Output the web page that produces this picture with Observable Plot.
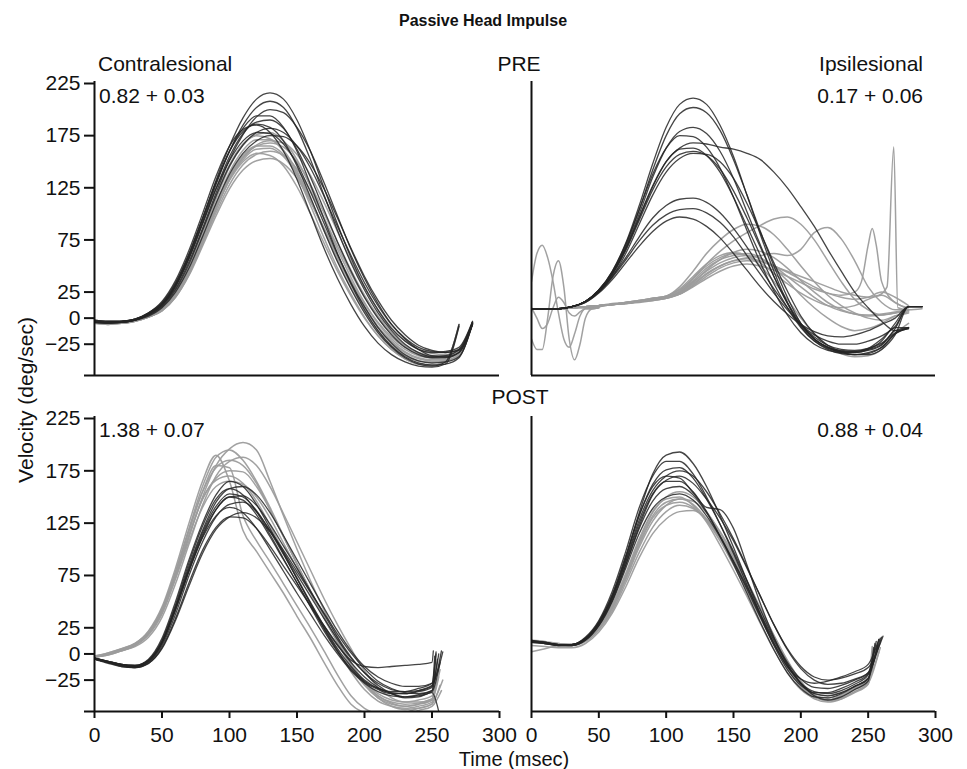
<!DOCTYPE html>
<html><head><meta charset="utf-8">
<script src="https://cdn.jsdelivr.net/npm/d3@7"></script>
<script src="https://cdn.jsdelivr.net/npm/@observablehq/plot@0.6"></script>
<style>
body{margin:0;background:#fff;}
#fig{position:relative;width:967px;height:769px;overflow:hidden;background:#fff;}
.panel{position:absolute;}
#overlay{position:absolute;left:0;top:0;}
</style></head>
<body><div id="fig"></div>
<script>
// ---------- axes / labels ----------
const xDomain = [0, 300];
const yDomain = [-55, 225];
const xTicks = [0, 50, 100, 150, 200, 250, 300];
const yTicks = [225, 175, 125, 75, 25, 0, -25];
const title = "Passive Head Impulse";
const sideLabels = ["Contralesional", "Ipsilesional"];
const rowLabels = ["PRE", "POST"];
const gains = ["0.82 + 0.03", "0.17 + 0.06", "1.38 + 0.07", "0.88 + 0.04"];
const xLabel = "Time (msec)";
const yLabel = "Velocity (deg/sec)";

// ---------- Panel A: PRE, contralesional ----------
const gridA = [0,10,20,30,40,50,60,70,80,90,100,110,120,130,140,150,160,170,180,190,200,210,220,230,240,250,260,270,280];
const eyeA = [
  [-2,-3,-3,-1,5,14,32,60,95,132,165,192,210,216,210,190,160,125,90,58,30,8,-10,-22,-30,-33,-32,-28,-3],
  [-3,-4,-4,-2,4,13,31,58,92,128,160,185,202,208,202,182,152,118,84,53,27,5,-12,-25,-33,-37,-36,-30,-4],
  [-3,-4,-3,-1,4,12,28,54,86,120,152,176,193,200,197,183,160,130,98,66,38,14,-6,-20,-30,-36,-37,-33,-5],
  [-4,-5,-4,-2,4,14,33,61,95,130,160,182,194,194,183,160,128,95,62,33,8,-12,-27,-37,-43,-45,-44,-38,-6],
  [-3,-4,-4,-2,3,12,30,57,90,124,155,177,188,190,182,162,135,104,73,45,20,0,-16,-28,-35,-38,-38,-33,-4],
  [-2,-3,-3,-1,5,15,34,62,96,130,160,179,186,183,170,146,116,84,54,28,5,-14,-28,-38,-44,-46,-42,-6],
  [-3,-4,-4,-2,3,11,27,52,84,117,146,166,178,182,178,165,144,117,88,60,34,12,-6,-19,-28,-32,-33,-30,-6],
  [-4,-5,-4,-2,4,13,31,58,91,124,151,170,178,177,167,148,121,91,61,34,11,-9,-24,-35,-41,-43,-42,-37,-5],
  [-3,-4,-4,-2,2,10,25,48,78,110,138,158,170,175,174,165,148,124,96,67,40,17,-2,-16,-26,-31,-33,-31,-6],
  [-3,-4,-3,-1,5,16,36,65,100,136,165,181,185,178,160,133,100,67,38,13,-8,-24,-35,-42,-46,-47,-44,-8]
];
const headA = [
  [-4,-5,-4,-2,2,9,24,48,80,114,145,166,176,178,170,152,126,96,66,39,15,-5,-20,-30,-36,-38,-37,-32,-4],
  [-5,-5,-4,-2,2,9,23,46,77,110,140,161,171,171,161,141,114,84,55,29,7,-12,-26,-36,-41,-42,-41,-36,-5],
  [-4,-5,-5,-3,1,8,21,43,73,105,134,154,165,168,164,150,128,101,73,46,22,2,-14,-26,-33,-36,-36,-32,-4],
  [-5,-6,-5,-3,1,8,22,44,74,105,133,152,162,163,155,137,112,84,57,32,10,-9,-23,-33,-39,-41,-41,-36,-5],
  [-4,-5,-4,-2,2,9,23,46,76,106,132,150,158,156,146,126,100,72,45,21,0,-17,-30,-39,-44,-45,-42,-6],
  [-5,-5,-5,-3,1,7,20,41,69,98,124,142,151,153,148,134,112,86,60,36,14,-4,-18,-28,-34,-37,-37,-33,-5],
  [-4,-5,-4,-2,1,8,21,43,72,104,133,154,166,170,168,157,137,111,83,55,30,8,-9,-22,-30,-34,-35,-31,-5],
  [-5,-6,-5,-3,1,7,20,42,71,101,128,147,157,160,156,143,122,96,69,43,20,0,-15,-27,-34,-38,-38,-34,-5],
  [-4,-5,-4,-2,3,10,25,50,83,117,147,167,175,172,160,137,108,77,48,23,1,-17,-30,-39,-44,-45,-42,-7],
  [-4,-5,-5,-2,2,8,22,45,75,107,136,156,165,165,157,139,114,86,58,33,11,-8,-22,-32,-38,-40,-40,-35,-4]
];

// ---------- Panel B: PRE, ipsilesional ----------
const gridB = [0,10,20,30,40,50,60,70,80,90,100,110,120,130,140,150,160,170,180,190,200,210,220,230,240,250,260,270,280,290];
const eyeB = [
  [9,9,9,11,16,27,45,72,108,148,183,205,211,205,185,155,118,80,45,15,-8,-22,-30,-34,-35,-33,-28,-15,-9],
  [9,9,9,11,16,27,44,70,104,142,175,196,202,197,180,152,118,83,50,20,-5,-20,-28,-32,-33,-31,-26,-12,-9],
  [9,9,9,11,16,26,43,68,100,135,163,179,183,177,160,134,102,70,40,14,-7,-20,-28,-31,-32,-30,-25,-10,11,11],
  [9,9,9,11,16,27,45,71,104,138,163,175,174,164,144,116,84,53,26,3,-14,-25,-31,-33,-33,-30,-22,-5,11,11],
  [9,9,9,11,16,26,43,67,97,127,150,162,163,156,140,116,88,60,33,10,-9,-22,-29,-32,-32,-29,-20,-9,-9],
  [9,9,9,11,16,26,42,66,96,126,150,163,168,167,164,162,158,152,140,125,107,88,66,45,25,10,-3,-12,-10],
  [9,9,9,11,16,26,42,65,94,123,145,157,160,156,143,122,96,68,40,15,-5,-20,-28,-33,-35,-34,-28,-15,-10],
  [9,9,9,11,15,25,40,62,90,118,140,153,158,157,150,134,110,82,53,26,2,-15,-26,-32,-35,-35,-30,-16,11,11],
  [9,9,9,11,16,25,40,58,78,96,108,114,115,111,101,86,68,48,28,10,-6,-18,-26,-30,-31,-29,-24,-14,-9],
  [9,9,9,11,16,25,39,56,74,89,99,104,105,101,92,78,60,42,24,8,-6,-16,-22,-25,-25,-22,-17,-8,11,11],
  [9,9,9,11,15,24,37,53,69,83,93,97,95,88,77,62,46,30,16,4,-6,-13,-17,-18,-16,-12,-6,0,11,11]
];
const headB = [
  [9,9,9,10,11,12,13,15,16,18,20,25,35,45,53,58,60,57,50,40,30,20,12,7,4,3,4,6,8],
  [9,9,9,10,11,12,13,14,16,17,19,24,34,46,56,63,66,64,58,48,36,25,15,8,4,2,3,5,7],
  [9,9,9,10,10,11,13,14,15,17,19,23,31,40,48,53,55,54,50,44,37,30,24,20,18,20,25,20,12],
  [9,9,9,10,11,12,13,15,17,19,21,27,38,50,58,62,60,53,43,33,24,17,12,10,12,18,22,15,8],
  [9,9,9,10,11,12,14,15,17,19,21,30,45,62,75,85,90,88,80,66,50,35,22,12,5,0,-2,2,5],
  [9,9,9,10,11,12,13,15,16,18,20,26,38,52,64,74,82,89,95,97,90,75,55,35,18,8,3,5,8],
  [9,9,9,10,10,11,13,14,16,17,19,23,32,42,50,55,58,60,62,60,66,82,87,76,55,30,15,8,8],
  [9,9,9,10,11,12,13,15,17,19,21,28,40,52,60,63,60,50,35,18,0,-15,-27,-34,-37,-36,-30,-15,-5],
  [9,9,9,10,11,12,13,14,16,18,20,25,36,48,56,60,62,58,48,36,22,10,0,-8,-12,-10,-5,2,6]
];
const waveTimesB = [0,4,8,12,16,20,24,28,32,36,40,45,50];
const wavesB = [
  [35,62,70,58,35,5,-20,-28,-15,2,9,9,10],
  [-20,-30,-30,0,40,55,30,-20,-40,-25,0,9,10],
  [10,0,-10,-5,10,20,15,5,2,6,9,9,10]
];
const spikeTimesB = [0,20,40,60,80,100,110,120,130,140,150,160,170,180,190,200,210,220,230,240,250,258,264,269,272,280,290];
const spikeB = [9,9,11,13,16,20,24,33,43,50,55,57,55,50,45,40,35,30,25,22,20,22,30,164,10,8,9];
const bumpTimesB = [0,20,40,60,80,100,110,120,130,140,150,160,170,180,190,200,210,220,230,240,245,250,253,256,260,270,280];
const bumpB = [9,9,11,13,16,20,23,30,38,45,50,52,50,46,40,34,28,24,22,25,35,70,86,70,35,15,10];

// ---------- Panel C: POST, contralesional ----------
const gridC = [0,10,20,30,40,50,60,70,80,90,100,110,120,130,140,150,160,170,180,190,200,210,220,230,240,250];
const hookEyeC = [253,255,252,257,254,256,258,251,255,253];
const eyeC = [
  [-4,-7,-10,-11,-5,15,50,90,125,152,165,160,143,120,96,72,48,24,3,-14,-26,-33,-36,-36,-33,-28,2],
  [-5,-8,-11,-12,-6,13,47,87,122,148,158,152,136,114,91,68,45,22,2,-15,-27,-34,-38,-38,-35,-30,0],
  [-4,-7,-10,-12,-7,10,42,80,114,138,150,147,133,112,90,68,46,25,5,-12,-25,-33,-37,-38,-36,-32,-2],
  [-5,-8,-12,-13,-8,8,38,75,107,131,143,145,136,118,97,76,55,34,14,-4,-18,-28,-34,-36,-35,-31,3],
  [-4,-7,-10,-11,-6,11,44,80,111,132,140,135,120,100,79,58,38,18,0,-16,-28,-36,-40,-41,-39,-35,-5],
  [-5,-9,-12,-13,-9,6,34,68,99,121,131,130,120,103,84,65,46,27,9,-8,-22,-32,-38,-41,-40,-36,-8],
  [-4,-7,-10,-11,-6,12,45,84,118,145,158,160,152,135,113,90,67,44,22,3,-12,-22,-28,-31,-31,-28,2],
  [-5,-8,-11,-12,-7,11,44,82,116,141,153,150,137,117,95,72,49,27,8,-6,-12,-13,-12,-11,-10,-8,3],
  [-4,-8,-11,-12,-7,10,42,79,112,138,150,151,142,124,103,82,60,38,16,-3,-18,-30,-38,-42,-41,-37,-55],
  [-5,-8,-11,-13,-9,5,32,65,96,119,131,135,130,117,99,79,59,39,19,1,-14,-26,-33,-37,-38,-35,0]
];
const hookHeadC = [254,256,252,257,255,253,258,252,256];
const headC = [
  [-3,0,4,9,20,42,78,120,160,188,195,185,165,140,113,86,60,35,12,-10,-28,-40,-47,-50,-48,-44,-25],
  [-3,-1,3,8,18,38,72,112,150,180,196,202,195,165,132,100,70,42,16,-8,-28,-42,-50,-53,-52,-48,-30],
  [-2,1,5,10,22,45,82,125,165,190,165,118,98,78,58,36,15,-8,-30,-48,-56,-58,-58,-56,-52,-48,-30],
  [-3,0,4,9,20,42,78,118,155,180,178,132,108,88,67,46,25,3,-20,-40,-52,-57,-58,-57,-54,-50,-35],
  [-3,0,4,9,21,43,78,118,155,178,185,180,163,138,112,86,60,35,11,-12,-30,-42,-48,-50,-48,-44,-22],
  [-3,0,3,8,19,40,74,112,148,168,175,174,160,138,112,86,60,35,12,-10,-28,-40,-46,-48,-47,-43,-20],
  [-2,1,5,10,21,42,76,114,148,166,170,163,146,123,98,73,49,26,4,-17,-34,-45,-50,-52,-50,-46,-25],
  [-3,-1,3,7,16,35,67,105,142,170,184,188,180,160,134,107,80,53,28,5,-16,-32,-42,-46,-46,-43,-20],
  [-3,0,4,9,20,40,72,108,140,160,165,162,150,130,106,82,58,34,12,-9,-26,-38,-44,-46,-44,-40,-15]
];

// ---------- Panel D: POST, ipsilesional ----------
const gridD = [0,10,20,30,40,50,60,70,80,90,100,110,120,130,140,150,160,170,180,190,200,210,220,230,240,250];
const hookEyeD = [258,256,260,255,257,259,254,258,261];
const eyeD = [
  [12,11,9,9,15,30,55,92,135,172,190,193,182,160,132,102,70,38,10,-12,-24,-28,-26,-22,-17,-10,14],
  [13,11,9,9,15,30,56,92,132,162,176,178,168,148,124,98,70,42,15,-8,-24,-32,-33,-30,-25,-18,12],
  [11,10,8,8,14,29,54,89,128,156,170,175,170,155,134,110,83,55,28,4,-14,-25,-29,-28,-24,-18,16],
  [12,11,9,9,15,31,57,94,133,160,170,168,154,140,138,120,85,48,16,-10,-28,-38,-40,-37,-31,-24,10],
  [12,10,9,9,14,29,54,88,125,153,165,165,155,136,112,86,58,30,4,-18,-33,-41,-42,-38,-31,-23,8],
  [13,11,9,9,14,28,52,85,120,146,158,160,152,135,113,88,62,35,10,-12,-28,-36,-38,-35,-29,-20,15],
  [11,10,8,8,13,27,50,82,115,139,150,153,147,132,112,89,64,38,13,-10,-28,-40,-44,-41,-34,-26,6],
  [12,11,9,9,16,32,60,98,140,170,184,184,172,150,124,96,66,36,8,-15,-30,-37,-37,-33,-27,-19,14],
  [12,10,8,8,13,27,51,85,122,152,166,170,163,148,130,108,82,55,28,5,-12,-22,-25,-23,-19,-13,17]
];
const hookHeadD = [256,255,258,254,257,259,253];
const headD = [
  [12,11,10,9,13,25,45,75,108,135,150,155,150,136,116,92,66,39,13,-10,-28,-38,-40,-37,-31,-24,8],
  [11,10,9,8,12,24,43,71,102,127,142,148,146,135,117,95,70,44,18,-6,-26,-39,-44,-42,-36,-28,5],
  [12,11,9,9,12,23,41,68,97,121,136,142,139,128,110,88,64,38,12,-12,-31,-43,-46,-43,-36,-28,2],
  [8,7,6,6,10,21,39,64,92,115,129,136,137,129,113,92,68,42,17,-7,-27,-40,-45,-43,-37,-29,4],
  [13,12,10,9,13,26,47,77,110,136,148,150,142,126,104,80,55,29,4,-18,-34,-42,-44,-40,-33,-25,10],
  [12,11,9,9,13,25,44,73,104,130,142,145,140,127,108,85,60,34,9,-14,-31,-40,-42,-39,-32,-24,6],
  [2,5,8,9,13,25,45,74,106,132,145,148,143,129,110,87,62,36,11,-12,-30,-41,-44,-41,-34,-26,7]
];

// ---------- helpers ----------
function toRows(times, traces, prefix, hooks) {
  const rows = [];
  traces.forEach((vals, i) => {
    vals.forEach((v, j) => {
      const last = hooks && j === vals.length - 1;
      rows.push({id: prefix + i, t: last ? hooks[i] : times[j], v});
    });
  });
  return rows;
}

const EYE = "#242424", HEAD = "#9c9c9c";
const FONT = "'Liberation Sans', Arial, Helvetica, sans-serif";
const fig = document.getElementById("fig");

function panel(cfg) {
  const marks = [
    Plot.line(cfg.head, {x: "t", y: "v", z: "id", stroke: HEAD, strokeWidth: 1.5, strokeOpacity: 0.95, curve: "monotone-x", clip: true}),
    Plot.line(cfg.eye, {x: "t", y: "v", z: "id", stroke: EYE, strokeWidth: 1.3, strokeOpacity: 0.85, curve: "monotone-x", clip: true}),
    Plot.ruleX([xDomain[0]], {strokeWidth: 2, insetTop: -2, stroke: "#111"}),
    Plot.ruleY([yDomain[0]], {strokeWidth: 2, insetLeft: cfg.extend ? -10 : 0, stroke: "#111"})
  ];
  if (cfg.showY) marks.push(Plot.axisY({ticks: yTicks, tickSize: 10, tickPadding: 4, strokeWidth: 2, label: null, fontSize: 21}));
  if (cfg.showX) marks.push(Plot.axisX({ticks: xTicks, tickSize: 7, tickPadding: 9, strokeWidth: 2, label: null, fontSize: 21}));
  const svg = Plot.plot({
    width: cfg.width, height: cfg.height,
    marginLeft: cfg.mL, marginRight: cfg.mR, marginTop: 13, marginBottom: cfg.mB,
    x: cfg.showX ? {domain: xDomain, label: null} : {domain: xDomain, axis: null},
    y: cfg.showY ? {domain: yDomain, label: null} : {domain: yDomain, axis: null},
    style: {fontFamily: FONT, fontSize: "21px", color: "#111", background: "transparent", overflow: "visible"},
    marks
  });
  svg.classList.add("panel");
  svg.style.left = cfg.left + "px";
  svg.style.top = cfg.top + "px";
  fig.appendChild(svg);
}

panel({left: 0, top: 70, width: 510, height: 310, mL: 94, mR: 11, mB: 5, extend: true, showY: true, showX: false,
  eye: toRows(gridA, eyeA, "e"), head: toRows(gridA, headA, "h")});
panel({left: 511, top: 70, width: 435, height: 310, mL: 20, mR: 11, mB: 5, extend: false, showY: false, showX: false,
  eye: toRows(gridB, eyeB, "e"),
  head: [...toRows(gridB, headB, "h"), ...toRows(waveTimesB, wavesB, "w"), ...toRows(spikeTimesB, [spikeB], "s"), ...toRows(bumpTimesB, [bumpB], "b")]});
panel({left: 0, top: 405, width: 510, height: 351, mL: 94, mR: 11, mB: 45, extend: true, showY: true, showX: true,
  eye: toRows(gridC, eyeC, "e", hookEyeC), head: toRows(gridC, headC, "h", hookHeadC)});
panel({left: 511, top: 405, width: 435, height: 351, mL: 20, mR: 11, mB: 45, extend: false, showY: false, showX: true,
  eye: toRows(gridD, eyeD, "e", hookEyeD), head: toRows(gridD, headD, "h", hookHeadD)});

// ---------- text overlay ----------
const ns = "http://www.w3.org/2000/svg";
const ov = document.createElementNS(ns, "svg");
ov.setAttribute("id", "overlay");
ov.setAttribute("width", 967); ov.setAttribute("height", 769);
ov.style.fontFamily = FONT;
function txt(s, x, y, anchor, opts = {}) {
  const t = document.createElementNS(ns, "text");
  t.textContent = s;
  t.setAttribute("x", x); t.setAttribute("y", y);
  t.setAttribute("text-anchor", anchor);
  t.setAttribute("font-size", opts.size || 21);
  t.setAttribute("fill", "#111");
  if (opts.bold) t.setAttribute("font-weight", "bold");
  if (opts.transform) t.setAttribute("transform", opts.transform);
  ov.appendChild(t);
}
txt(title, 483, 26, "middle", {bold: true, size: 16});
txt(sideLabels[0], 98, 71, "start");
txt(rowLabels[0], 519, 71, "middle");
txt(sideLabels[1], 923, 71, "end");
txt(gains[0], 99, 103, "start");
txt(gains[1], 923, 103, "end");
txt(rowLabels[1], 520, 404, "middle");
txt(gains[2], 99, 437, "start");
txt(gains[3], 923, 437, "end");
txt(xLabel, 514, 766, "middle", {size: 20});
txt(yLabel, 0, 0, "middle", {transform: "translate(33,400) rotate(-90)"});
fig.appendChild(ov);
</script>
</body></html>
